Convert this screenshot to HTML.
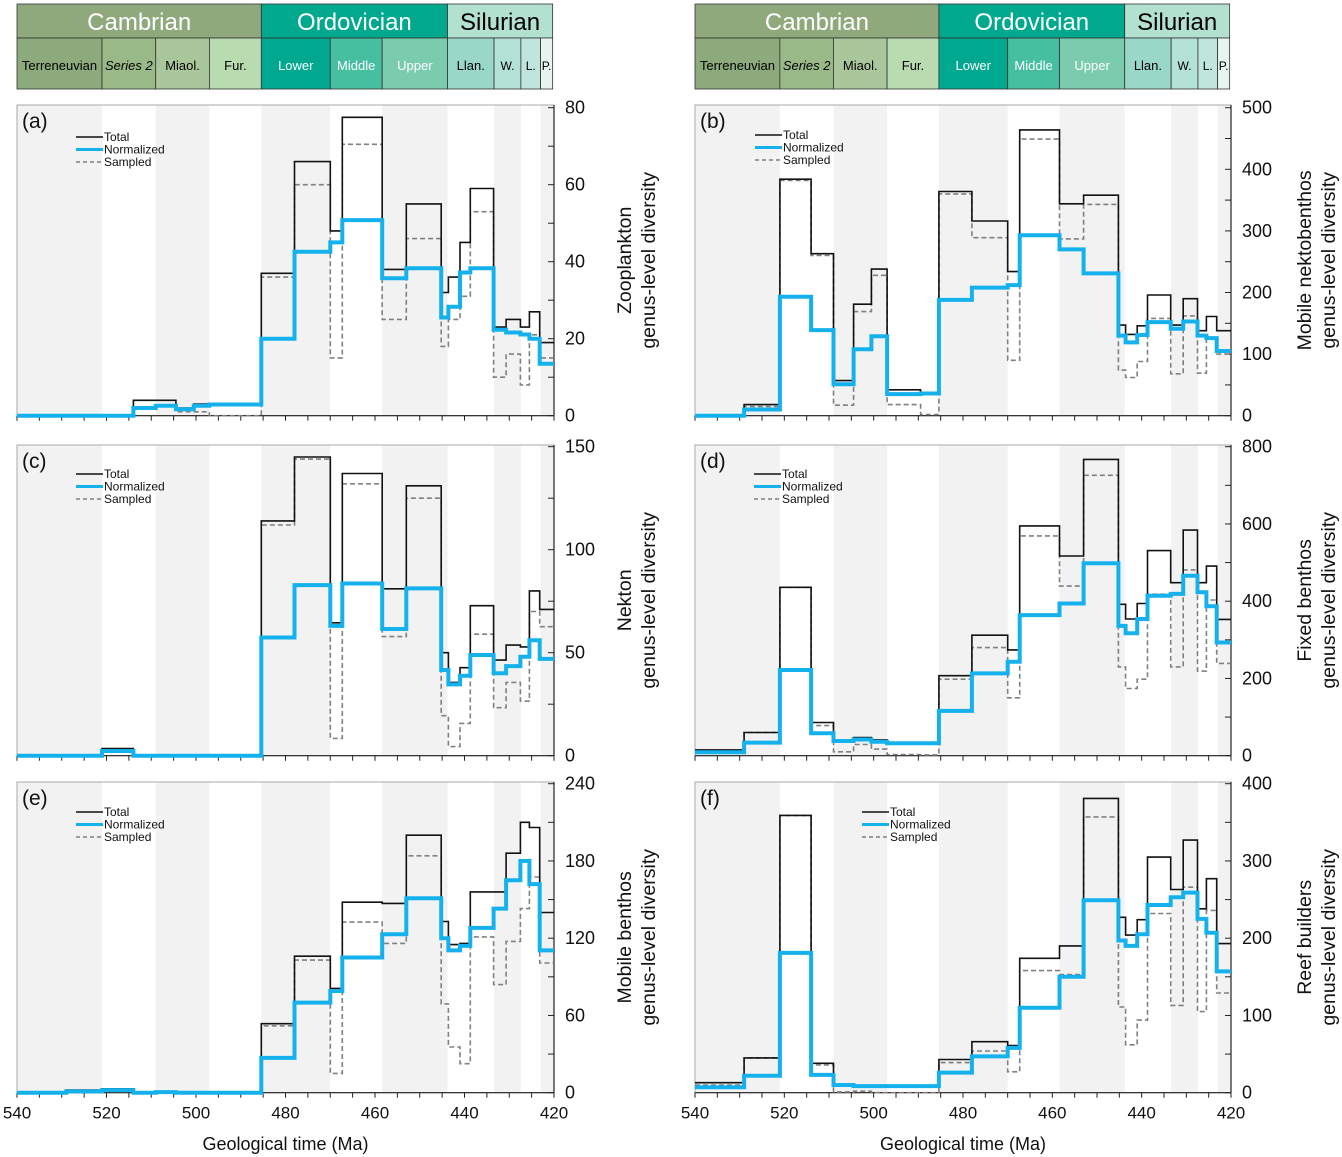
<!DOCTYPE html>
<html><head><meta charset="utf-8">
<style>
body{margin:0;background:#fff;}
svg{display:block;font-family:"Liberation Sans",Arial,sans-serif;}
</style></head>
<body>
<svg id="chart" width="1342" height="1157" viewBox="0 0 1342 1157" xmlns="http://www.w3.org/2000/svg"></svg>
<script>
// Bin edges (Ma)
const edges = [540,529,521,514,509,504.5,500.5,497,489.5,485.4,478,470,467.3,458.4,453,445.2,443.6,441,438.7,433.5,430.7,427.5,425.5,423.2,420];
// Panel (a) Zooplankton
const aTotal = [0,0,0,4,4,2,3,3,3,37,66,48,77.5,38,55,32,36,45,59,23,25,23,27,19];
const aNorm  = [0,0,0,2,2.6,1.7,2.6,2.9,2.9,20,42.6,45,50.8,35.7,38.3,25.5,28.3,37.2,38.3,22.3,21.6,21.1,20,13.5];
const aSamp  = [0,0,0,2,2.5,1,1,0,0,36,60,15,70.5,25,46,18,25,31,53,10,16,8,21,15];
// Panel (b) Mobile nektobenthos
const bTotal = [0,18,384,263,57,181,238,42,36,364,316,234,464,344,358,147,132,146,196,147,190,138,161,138];
const bNorm  = [0,10,193,139,51,108,129,35,36,188,208,212,293,270,231,130,119,131,152,141,153,130,126,105];
const bSamp  = [0,15,382,260,17,169,228,18,2,360,289,90,449,287,343,74,62,88,158,68,162,69,127,100];
// Panel (c) Nekton
const cTotal = [0,0,3.5,0,0,0,0,0,0,114,145,64.5,137,81,131,50,35.6,42.7,72.8,46.4,53.7,52.8,80,71];
const cNorm  = [0,0,2.3,0,0,0,0,0,0,57.4,82.8,63,83.6,61.5,81.2,41.6,34.6,38.8,48.9,40,43.5,48,56,47];
const cSamp  = [0,0,3,0,0,0,0,0,0,112,144,8.4,132,57.8,125,19.4,4.4,15.7,59,23.3,35.6,26.5,70,62.6];
// Panel (d) Fixed benthos
const dTotal = [15,60,436,86,38,47,41,32,32,207,312,274,595,517,767,392,354,394,531,448,584,448,491,353];
const dNorm  = [9,34,222,58,38,42,36,32,32,116,213,243,364,394,498,336,317,354,414,419,466,423,387,293];
const dSamp  = [10,60,436,78,10,29,17,3,2,198,280,150,569,439,726,230,174,198,418,230,481,219,403,239];
// Panel (e) Mobile benthos
const eTotal = [0,2,3,0,1,0,0,0,0,53.6,106,81,148,147,200,133,115,116,156,156,186,210,206,140];
const eNorm  = [0,1,2,0,0.5,0,0,0,0,27,70,79,105,123,151,120,110.5,114,128,143,165,180,162,110.5];
const eSamp  = [0,1,2,0,0.5,0,0,0,0,52,103,15,132.5,116,184,69,35.5,22.5,121,84,117.5,143,167.5,100.7];
// Panel (f) Reef builders
const fTotal = [13,45,359,38,9.5,8.6,8.6,8.6,8.6,43,66,61,174,190,381,227,204,224,305,263,327,238,277,193];
const fNorm  = [7,22,181,23,10,8.6,8.6,8.6,8.6,26,47,58,110,150,249,197,190,205,243,253,259,225,207,157];
const fSamp  = [10,45,359,36,1,2,0,0,0,39,54,27,158,153,357,111,62,94,232,113,266,105,236,129];
// Axis ticks
const aTicks = [0,20,40,60,80];
const bTicks = [0,100,200,300,400,500];
const cTicks = [0,50,100,150];
const dTicks = [0,200,400,600,800];
const eTicks = [0,60,120,180,240];
const fTicks = [0,100,200,300,400];
const xTicks = [540,520,500,480,460,440,420];
// Geological timescale
const periods = [["Cambrian",540,485.4,"#8fa97d","#fff"],["Ordovician",485.4,443.8,"#00a98e","#fff"],["Silurian",443.8,420.3,"#b2e1cf","#000"]];
const epochs = [["Terreneuvian",540,521,"#8caa7c","#000",false],["Series 2",521,509,"#99ba88","#000",true],["Miaol.",509,497,"#a9c79a","#000",false],["Fur.",497,485.4,"#b8dbb0","#000",false],["Lower",485.4,470,"#00a890","#fff",false],["Middle",470,458.4,"#45bfa0","#fff",false],["Upper",458.4,443.8,"#7bccaf","#fff",false],["Llan.",443.8,433.4,"#99d7c9","#000",false],["W.",433.4,427.4,"#b3e1d6","#000",false],["L.",427.4,423,"#bfe5dc","#000",false],["P.",423,420.3,"#e6f5ee","#000",false]];
const bands = [[540,521],[509,497],[485.4,470],[458.4,443.8],[433.4,427.4],[423,420]];

const NS="http://www.w3.org/2000/svg";
const svg=document.getElementById('chart');
function el(tag,attrs,parent,text){const e=document.createElementNS(NS,tag);for(const k in attrs)e.setAttribute(k,attrs[k]);if(text!==undefined)e.textContent=text;(parent||svg).appendChild(e);return e;}

const cols=[{x0:17,x1:554},{x0:695,x1:1231}];
const rows=[{top:105,ymax:107.7,zero:415.7},{top:445,ymax:446.7,zero:755.7},{top:782,ymax:783.7,zero:1092.7}];
const panels=[
 {lab:"(a)",c:0,r:0,T:aTotal,N:aNorm,S:aSamp,ticks:aTicks,t1:"Zooplankton",leg:[76,137]},
 {lab:"(b)",c:1,r:0,T:bTotal,N:bNorm,S:bSamp,ticks:bTicks,t1:"Mobile nektobenthos",leg:[755,135]},
 {lab:"(c)",c:0,r:1,T:cTotal,N:cNorm,S:cSamp,ticks:cTicks,t1:"Nekton",leg:[76,474]},
 {lab:"(d)",c:1,r:1,T:dTotal,N:dNorm,S:dSamp,ticks:dTicks,t1:"Fixed benthos",leg:[754,474]},
 {lab:"(e)",c:0,r:2,T:eTotal,N:eNorm,S:eSamp,ticks:eTicks,t1:"Mobile benthos",leg:[76,812]},
 {lab:"(f)",c:1,r:2,T:fTotal,N:fNorm,S:fSamp,ticks:fTicks,t1:"Reef builders",leg:[862,812]}
];
function xs(c,ma){const C=cols[c];return C.x0+(540-ma)/120*(C.x1-C.x0);}

// Headers
for(let c=0;c<2;c++){
  const g=el('g',{});
  
  
  periods.forEach(p=>{
    const x0=xs(c,p[1]),x1=xs(c,p[2]);
    const r=el('rect',{x:x0,y:4,width:x1-x0,height:34,fill:p[3],stroke:'#333','stroke-width':0.8},g);
    
    
    el('text',{x:(x0+x1)/2,y:30,'text-anchor':'middle','font-size':24,fill:p[4]},g,p[0]);
  });
  epochs.forEach(p=>{
    const x0=xs(c,p[1]),x1=xs(c,p[2]);
    const r=el('rect',{x:x0,y:38,width:x1-x0,height:51,fill:p[3],stroke:'#333','stroke-width':0.8},g);
    
    
    const t=el('text',{x:(x0+x1)/2,y:70,'text-anchor':'middle','font-size':p[0].length>2?13:12,fill:p[4]},g,p[0]);
    if(p[5])t.setAttribute('font-style','italic');
  });
}

panels.forEach(P=>{
  const C=cols[P.c],R=rows[P.r];
  const vmax=P.ticks[P.ticks.length-1];
  const ys=v=>R.zero-(v/vmax)*(R.zero-R.ymax);
  const g=el('g',{});
  
  
  bands.forEach(b=>{
    const bb=el('rect',{x:xs(P.c,b[0]),y:R.top,width:xs(P.c,b[1])-xs(P.c,b[0]),height:R.zero-R.top,fill:'#f2f2f2'},g);
    
    
  });
  el('rect',{x:C.x0,y:R.top,width:C.x1-C.x0,height:R.zero-R.top,fill:'none',stroke:'#aaa','stroke-width':1},g);
  el('line',{x1:C.x1,y1:R.top,x2:C.x1,y2:R.zero,stroke:'#222','stroke-width':1.2},g);
  el('line',{x1:C.x0,y1:R.zero,x2:C.x1,y2:R.zero,stroke:'#222','stroke-width':1.2},g);
  const step=P.ticks[1]-P.ticks[0];
  for(let v=0;v<=vmax+1e-9;v+=step/2){
    el('line',{x1:C.x1-6,y1:ys(v),x2:C.x1,y2:ys(v),stroke:'#222','stroke-width':1},g);
  }
  P.ticks.forEach(v=>{
    const t=el('text',{x:C.x1+11,y:ys(v)+6,'font-size':18,fill:'#111'},g,String(v));
    
    
  });
  for(let m=540;m>=420;m-=5){
    el('line',{x1:xs(P.c,m),y1:R.zero,x2:xs(P.c,m),y2:R.zero+5,stroke:'#222','stroke-width':1},g);
  }
  if(P.r===2){
    xTicks.forEach(m=>{
      const t=el('text',{x:xs(P.c,m),y:R.zero+26,'text-anchor':'middle','font-size':17,fill:'#111'},g,String(m));
      
      
    });
    const xt=el('text',{x:(C.x0+C.x1)/2,y:1150,'text-anchor':'middle','font-size':18,fill:'#111'},g,'Geological time (Ma)');
    
    
  }
  function stepPath(vals){
    let d='M'+xs(P.c,edges[0]).toFixed(1)+','+ys(vals[0]).toFixed(1);
    for(let i=0;i<vals.length;i++){
      if(i>0)d+=' V'+ys(vals[i]).toFixed(1);
      d+=' H'+xs(P.c,edges[i+1]).toFixed(1);
    }
    return d;
  }
  const s=el('path',{d:stepPath(P.S),fill:'none',stroke:'#808080','stroke-width':1.6,'stroke-dasharray':'5,3'},g);
  
  
  const t=el('path',{d:stepPath(P.T),fill:'none',stroke:'#111','stroke-width':1.6},g);
  
  
  const n=el('path',{d:stepPath(P.N),fill:'none',stroke:'#14b1ec','stroke-width':4},g);
  
  
  const lb=el('text',{x:C.x0+5,y:R.top+23,'font-size':21,fill:'#111'},g,P.lab);
  
  
  const lg=el('g',{},g);
  
  
  const [lx,ly]=P.leg;
  const items=[['Total','#111',1.4,''],['Normalized','#14b1ec',3,''],['Sampled','#808080',1.4,'4,3']];
  items.forEach((it,i)=>{
    const yy=ly+i*12.5;
    const ln=el('line',{x1:lx,y1:yy,x2:lx+27,y2:yy,stroke:it[1],'stroke-width':it[2]},lg);
    if(it[3])ln.setAttribute('stroke-dasharray',it[3]);
    
    
    el('text',{x:lx+28,y:yy+4,'font-size':12,fill:'#111'},lg,it[0]);
  });
  const cx=P.c===0?637:1317, cy=(R.top+R.zero)/2;
  const yt=el('text',{transform:'translate('+cx+','+cy+') rotate(-90)','text-anchor':'middle','font-size':19.5,fill:'#111'},g);
  
  
  el('tspan',{x:0,y:-6},yt,P.t1);
  el('tspan',{x:0,y:18},yt,'genus-level diversity');
});
</script>
</body></html>
